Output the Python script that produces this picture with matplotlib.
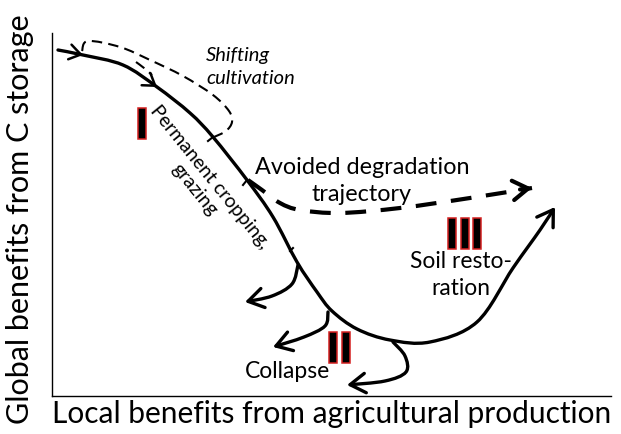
import numpy as np
import matplotlib
matplotlib.use("Agg")
import matplotlib.pyplot as plt
from matplotlib.path import Path
from matplotlib.patches import FancyArrowPatch, PathPatch, Rectangle, ArrowStyle

plt.rcParams['font.family'] = ['Lato', 'DejaVu Sans']

# ---- diagram data (pixel-space coordinates of the conceptual sketch) ----
main_x = [58, 83, 123, 157, 190, 213, 247, 273, 297, 317, 332, 357, 390, 430, 477, 513, 540, 555]
main_y = [50, 55, 65, 87, 113, 137, 180, 217, 262, 292, 311, 329, 340, 342, 322, 268, 230, 207]

shift_x = [82, 88, 120, 150, 183, 213, 229, 232, 226, 214]
shift_y = [51, 41, 47, 60, 76, 95, 111, 122, 131, 137]
shift2_x = [136, 144, 152]
shift2_y = [62, 68, 75]

avoid_x = [248, 262, 280, 300, 340, 400, 470, 532]
avoid_y = [180, 190, 203, 210, 213, 208, 198, 188]

branch1_x = [298, 292, 272, 245]
branch1_y = [265, 284, 296, 302]
branch2_x = [328, 325, 304, 273]
branch2_y = [312, 326, 337, 347]
branch3_x = [393, 405, 406, 385, 347]
branch3_y = [342, 356, 372, 381, 385]

mid_arrow_at = [1, 3]  # indices on the main curve carrying direction arrows

labels = {
    "xlabel": "Local benefits from agricultural production",
    "ylabel": "Global benefits from C storage",
    "shift": "Shifting\ncultivation",
    "perm": "Permanent cropping,\ngrazing",
    "avoid": "Avoided degradation\ntrajectory",
    "soil": "Soil resto-\nration",
    "collapse": "Collapse",
}
roman_I = [138]
roman_II = [329, 342]
roman_III = [448, 461, 473]


def smooth_path(xs, ys):
    p = np.column_stack([xs, ys]).astype(float)
    ext = np.vstack([p[0], p, p[-1]])
    verts = [tuple(p[0])]
    codes = [Path.MOVETO]
    for i in range(1, len(ext) - 2):
        p0, p1, p2, p3 = ext[i - 1], ext[i], ext[i + 1], ext[i + 2]
        c1 = p1 + (p2 - p0) / 6.0
        c2 = p2 - (p3 - p1) / 6.0
        verts += [tuple(c1), tuple(c2), tuple(p2)]
        codes += [Path.CURVE4] * 3
    return Path(verts, codes)


fig = plt.figure(figsize=(6.21, 4.34), dpi=100)
ax = fig.add_axes([0, 0, 1, 1])
ax.set_xlim(0, 621)
ax.set_ylim(434, 0)
ax.axis('off')

# axes lines
ax.plot([52, 52], [33, 396], color='black', lw=1.0)
ax.plot([52, 611], [396, 396], color='black', lw=1.0)

ax.text(332, 414, labels["xlabel"], ha='center', va='center', fontsize=21.5)
ax.text(20, 219, labels["ylabel"], ha='center', va='center', fontsize=22, rotation=90)

LW = 2.4
head = ArrowStyle('->', head_length=0.55, head_width=0.35)

# main curve with end arrow
main_path = smooth_path(main_x, main_y)
ax.add_patch(FancyArrowPatch(path=main_path, arrowstyle=head, mutation_scale=20,
                             lw=LW, color='black', transform=ax.transData,
                             capstyle='round', joinstyle='round'))

# direction arrows along main curve
for i in mid_arrow_at:
    x0, y0 = main_x[i], main_y[i]
    dx, dy = main_x[i + 1] - main_x[i - 1], main_y[i + 1] - main_y[i - 1]
    n = np.hypot(dx, dy)
    ax.add_patch(FancyArrowPatch((x0 - 4 * dx / n, y0 - 4 * dy / n), (x0, y0),
                                 arrowstyle=ArrowStyle('->', head_length=0.45, head_width=0.3),
                                 mutation_scale=18, lw=1.8, color='black',
                                 shrinkA=0, shrinkB=0))

# branches
for bx, by in [(branch1_x, branch1_y), (branch2_x, branch2_y), (branch3_x, branch3_y)]:
    ax.add_patch(FancyArrowPatch(path=smooth_path(bx, by), arrowstyle=head, mutation_scale=20,
                                 lw=LW, color='black', transform=ax.transData))

# shifting cultivation dashed loop
ax.add_patch(PathPatch(smooth_path(shift_x, shift_y), fill=False, lw=1.5,
                       linestyle=(0, (5, 3)), edgecolor='black'))
ax.add_patch(PathPatch(smooth_path(shift2_x, shift2_y), fill=False, lw=1.5,
                       linestyle=(0, (5, 3)), edgecolor='black'))

# avoided degradation dashed trajectory
ax.add_patch(PathPatch(smooth_path(avoid_x, avoid_y), fill=False, lw=3.0,
                       linestyle=(0, (5, 3.5)), edgecolor='black'))
ax.add_patch(FancyArrowPatch((avoid_x[-2] + 50, avoid_y[-2] - 8.5), (avoid_x[-1], avoid_y[-1]),
                             arrowstyle=ArrowStyle('->', head_length=0.55, head_width=0.35),
                             mutation_scale=20, lw=3.0, color='black', shrinkA=0, shrinkB=0))

# small ticks on main curve
for tx, ty, ex, ey in [(213, 137, 208, 141), (247, 180, 243, 185), (293, 248, 290, 251)]:
    ax.plot([tx, ex], [ty, ey], color='black', lw=1.5)

# roman numerals as bars
def bars(xs, y, h, w=8):
    for x in xs:
        ax.add_patch(Rectangle((x, y), w, h, facecolor='black', edgecolor='#d42020', lw=1.1))

bars(roman_I, 108, 31)
bars(roman_II, 332, 31)
bars(roman_III, 218, 31)

# texts
ax.text(206, 67, labels["shift"], ha='left', va='center', fontsize=14.5, style='italic',
        linespacing=1.45)
ax.text(202, 183, labels["perm"], ha='center', va='center', fontsize=14,
        rotation=-51, rotation_mode='anchor', linespacing=1.25)
ax.text(362, 181, labels["avoid"], ha='center', va='center', fontsize=16.8, linespacing=1.4)
ax.text(461, 275, labels["soil"], ha='center', va='center', fontsize=16.4, linespacing=1.35)
ax.text(288, 372, labels["collapse"], ha='center', va='center', fontsize=16.5)

fig.savefig("out.png", dpi=100)
